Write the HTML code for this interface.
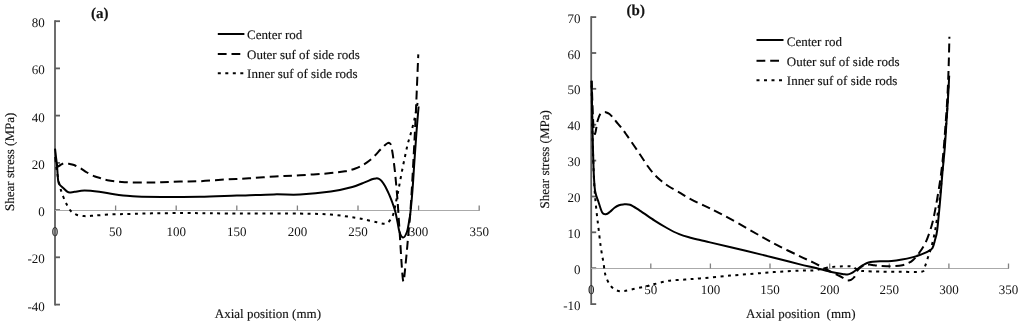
<!DOCTYPE html>
<html><head><meta charset="utf-8"><style>
html,body{margin:0;padding:0;background:#fff;width:1024px;height:325px;overflow:hidden}
svg{display:block;filter:grayscale(1)}
.ax{stroke:#5e5e5e;stroke-width:1.8;fill:none}
.xax{stroke:#aaa;stroke-width:1.2;fill:none}
.xt{stroke:#808080;stroke-width:1.3;fill:none}
.s{stroke:#000;stroke-width:2;fill:none;stroke-linejoin:round}
.d{stroke:#000;stroke-width:2;fill:none;stroke-dasharray:8.8 4.9}
.o{stroke:#000;stroke-width:2;fill:none;stroke-dasharray:3 4.5}
text{font-family:"Liberation Serif",serif;font-size:13px;fill:#111;text-rendering:geometricPrecision}
.t{opacity:0.99}
.t text{stroke:#111;stroke-width:0.15}
.t .n text{stroke:none}
text.b{font-weight:bold;font-size:15px}
</style></head><body>
<svg width="1024" height="325" viewBox="0 0 1024 325">
<line class="ax" x1="55.0" y1="20.3" x2="55.0" y2="305.5"/><line class="ax" x1="55.0" y1="21.2" x2="60.0" y2="21.2"/><line class="ax" x1="55.0" y1="68.4" x2="60.0" y2="68.4"/><line class="ax" x1="55.0" y1="115.6" x2="60.0" y2="115.6"/><line class="ax" x1="55.0" y1="162.9" x2="60.0" y2="162.9"/><line class="ax" x1="55.0" y1="210.1" x2="60.0" y2="210.1"/><line class="ax" x1="55.0" y1="257.3" x2="60.0" y2="257.3"/><line class="ax" x1="55.0" y1="304.6" x2="60.0" y2="304.6"/><line class="xax" x1="55.0" y1="210.5" x2="479.7" y2="210.5"/><line class="xt" x1="115.6" y1="210.5" x2="115.6" y2="205.5"/><line class="xt" x1="176.2" y1="210.5" x2="176.2" y2="205.5"/><line class="xt" x1="236.8" y1="210.5" x2="236.8" y2="205.5"/><line class="xt" x1="297.4" y1="210.5" x2="297.4" y2="205.5"/><line class="xt" x1="358.0" y1="210.5" x2="358.0" y2="205.5"/><line class="xt" x1="418.6" y1="210.5" x2="418.6" y2="205.5"/><line class="xt" x1="479.2" y1="210.5" x2="479.2" y2="205.5"/>
<line class="ax" x1="591.2" y1="16.2" x2="591.2" y2="305.0"/><line class="ax" x1="591.2" y1="17.1" x2="596.2" y2="17.1"/><line class="ax" x1="591.2" y1="53.0" x2="596.2" y2="53.0"/><line class="ax" x1="591.2" y1="88.8" x2="596.2" y2="88.8"/><line class="ax" x1="591.2" y1="124.7" x2="596.2" y2="124.7"/><line class="ax" x1="591.2" y1="160.6" x2="596.2" y2="160.6"/><line class="ax" x1="591.2" y1="196.5" x2="596.2" y2="196.5"/><line class="ax" x1="591.2" y1="232.3" x2="596.2" y2="232.3"/><line class="ax" x1="591.2" y1="268.2" x2="596.2" y2="268.2"/><line class="ax" x1="591.2" y1="304.1" x2="596.2" y2="304.1"/><line class="xax" x1="591.2" y1="268.5" x2="1009.0" y2="268.5"/><line class="xt" x1="650.8" y1="268.5" x2="650.8" y2="263.5"/><line class="xt" x1="710.4" y1="268.5" x2="710.4" y2="263.5"/><line class="xt" x1="770.0" y1="268.5" x2="770.0" y2="263.5"/><line class="xt" x1="829.7" y1="268.5" x2="829.7" y2="263.5"/><line class="xt" x1="889.3" y1="268.5" x2="889.3" y2="263.5"/><line class="xt" x1="948.9" y1="268.5" x2="948.9" y2="263.5"/><line class="xt" x1="1008.5" y1="268.5" x2="1008.5" y2="263.5"/>
<g class="t">
<g class="n">
<text x="44.8" y="27.2" text-anchor="end">80</text><text x="44.8" y="74.4" text-anchor="end">60</text><text x="44.8" y="121.6" text-anchor="end">40</text><text x="44.8" y="168.9" text-anchor="end">20</text><text x="44.8" y="216.1" text-anchor="end">0</text><text x="44.8" y="263.3" text-anchor="end">-20</text><text x="44.8" y="310.6" text-anchor="end">-40</text>
<text x="580.6" y="22.7" text-anchor="end">70</text><text x="580.6" y="58.6" text-anchor="end">60</text><text x="580.6" y="94.4" text-anchor="end">50</text><text x="580.6" y="130.3" text-anchor="end">40</text><text x="580.6" y="166.2" text-anchor="end">30</text><text x="580.6" y="202.1" text-anchor="end">20</text><text x="580.6" y="237.9" text-anchor="end">10</text><text x="580.6" y="273.8" text-anchor="end">0</text><text x="580.6" y="309.7" text-anchor="end">-10</text>
<text x="55.0" y="235.5" text-anchor="middle">0</text><text x="115.6" y="235.5" text-anchor="middle">50</text><text x="176.2" y="235.5" text-anchor="middle">100</text><text x="236.8" y="235.5" text-anchor="middle">150</text><text x="297.4" y="235.5" text-anchor="middle">200</text><text x="358.0" y="235.5" text-anchor="middle">250</text><text x="418.6" y="235.5" text-anchor="middle">300</text><text x="479.2" y="235.5" text-anchor="middle">350</text>
<text x="591.2" y="294.0" text-anchor="middle">0</text><text x="650.8" y="294.0" text-anchor="middle">50</text><text x="710.4" y="294.0" text-anchor="middle">100</text><text x="770.0" y="294.0" text-anchor="middle">150</text><text x="829.7" y="294.0" text-anchor="middle">200</text><text x="889.3" y="294.0" text-anchor="middle">250</text><text x="948.9" y="294.0" text-anchor="middle">300</text><text x="1008.5" y="294.0" text-anchor="middle">350</text>
</g>
<text x="267.9" y="318.0" text-anchor="middle">Axial position (mm)</text>
<text x="800.8" y="318.0" text-anchor="middle" xml:space="preserve">Axial position  (mm)</text>
<text transform="translate(13.5,161.8) rotate(-90)" text-anchor="middle">Shear stress (MPa)</text>
<text transform="translate(548.8,159.3) rotate(-90)" text-anchor="middle">Shear stress (MPa)</text>
<line class="s" x1="217.8" y1="34" x2="244.4" y2="34"/><line class="d" x1="217.8" y1="54" x2="244.4" y2="54"/><line class="o" x1="217.8" y1="73.3" x2="244.4" y2="73.3"/><text x="247.1" y="39.2">Center rod</text><text x="247.1" y="58.8">Outer suf of side rods</text><text x="247.1" y="78.2">Inner suf of side rods</text>
<line class="s" x1="756.5" y1="40" x2="783.5" y2="40"/><line class="d" x1="756.5" y1="60.8" x2="783.5" y2="60.8"/><line class="o" x1="756.5" y1="80.2" x2="783.5" y2="80.2"/><text x="786.8" y="45.8">Center rod</text><text x="786.8" y="66">Outer suf of side rods</text><text x="786.8" y="85.2">Inner suf of side rods</text>
<text x="91" y="18.4" class="b">(a)</text>
<text x="626.6" y="14.9" class="b">(b)</text>
</g>
<path class="s" d="M55.0,148.6 C55.2,150.0 55.7,154.3 56.0,157.0 C56.3,159.7 56.6,161.8 56.9,164.6 C57.2,167.4 57.4,171.2 57.6,174.0 C57.8,176.8 58.0,179.7 58.3,181.5 C58.6,183.3 58.7,183.5 59.6,184.6 C60.5,185.7 62.2,187.0 63.5,188.2 C64.8,189.4 66.2,190.9 67.2,191.6 C68.2,192.3 68.5,192.4 69.7,192.4 C70.9,192.4 72.1,192.1 74.6,191.8 C77.1,191.5 80.4,190.6 84.5,190.6 C88.6,190.6 94.3,191.2 99.2,191.8 C104.1,192.4 108.9,193.5 114.0,194.2 C119.1,194.9 125.3,195.7 130.0,196.1 C134.7,196.5 135.2,196.7 141.9,196.8 C148.6,196.9 160.3,196.9 170.0,196.9 C179.7,196.9 188.8,197.0 200.0,196.8 C211.2,196.6 224.6,196.0 236.9,195.6 C249.2,195.2 263.4,194.6 273.9,194.4 C284.4,194.2 290.5,195.0 300.0,194.5 C309.5,194.0 322.1,192.8 330.8,191.6 C339.5,190.3 346.7,188.5 352.3,187.0 C357.9,185.5 361.3,183.7 364.6,182.4 C367.9,181.1 370.1,180.0 372.0,179.3 C373.9,178.6 374.8,178.5 376.0,178.4 C377.2,178.3 378.1,178.4 379.0,178.8 C379.9,179.2 380.5,179.6 381.5,180.8 C382.5,182.0 383.7,183.7 385.0,186.0 C386.3,188.3 387.9,191.8 389.2,194.6 C390.4,197.4 391.5,200.1 392.5,203.0 C393.5,205.9 394.6,208.8 395.4,212.0 C396.2,215.2 396.8,218.7 397.5,222.0 C398.2,225.3 398.6,229.4 399.5,232.0 C400.4,234.6 402.0,237.6 403.2,237.6 C404.4,237.6 405.9,234.6 406.9,232.0 C407.9,229.4 408.4,225.3 409.0,222.0 C409.6,218.7 409.9,217.3 410.5,212.0 C411.1,206.7 411.8,198.7 412.5,190.0 C413.2,181.3 413.8,169.7 414.5,160.0 C415.2,150.3 415.8,140.9 416.5,132.0 C417.2,123.1 418.2,110.8 418.6,106.5"/>
<path class="d" d="M55.1,157.0 C55.3,158.0 56.0,161.4 56.5,163.0 C57.0,164.6 57.3,166.2 58.0,166.5 C58.7,166.8 59.5,165.5 60.5,165.0 C61.5,164.5 62.6,163.5 64.0,163.3 C65.4,163.1 67.3,163.5 69.0,163.8 C70.7,164.1 72.2,164.3 74.0,165.0 C75.8,165.7 77.8,166.8 80.0,168.0 C82.2,169.2 84.5,171.1 87.0,172.5 C89.5,173.9 92.8,175.6 95.0,176.5 C97.2,177.4 97.9,177.4 100.0,178.0 C102.1,178.6 103.3,179.5 107.4,180.2 C111.5,180.9 118.3,181.8 124.6,182.2 C130.9,182.6 138.8,182.5 145.0,182.5 C151.2,182.5 155.8,182.5 161.6,182.3 C167.4,182.1 173.6,181.7 180.0,181.5 C186.4,181.3 192.5,181.5 200.0,181.2 C207.5,180.9 216.8,180.0 225.0,179.5 C233.2,179.0 240.7,178.8 249.0,178.3 C257.3,177.8 266.5,177.0 275.0,176.5 C283.5,176.0 290.7,175.9 300.0,175.3 C309.3,174.7 323.3,173.8 330.8,173.1 C338.3,172.4 340.9,172.1 345.0,171.3 C349.1,170.5 352.4,169.6 355.4,168.5 C358.4,167.4 360.7,166.3 363.0,165.0 C365.3,163.7 367.2,162.4 369.2,160.8 C371.2,159.2 373.2,157.3 375.0,155.5 C376.8,153.7 378.5,151.6 380.0,150.0 C381.5,148.4 382.8,147.1 384.0,146.0 C385.2,144.9 386.1,144.0 387.0,143.5 C387.9,143.0 388.5,142.7 389.2,142.9 C389.9,143.2 390.5,143.6 391.0,145.0 C391.5,146.4 391.8,148.7 392.3,151.5 C392.8,154.3 393.3,157.9 393.8,162.0 C394.3,166.1 394.8,169.9 395.4,176.2 C396.0,182.5 396.8,191.0 397.5,200.0 C398.2,209.0 398.8,219.7 399.5,230.0 C400.2,240.3 400.9,253.4 401.5,262.0 C402.1,270.6 402.7,281.0 403.4,281.5 C404.1,282.0 404.7,272.2 405.5,265.0 C406.3,257.8 407.2,247.2 408.0,238.0 C408.8,228.8 409.7,221.7 410.5,210.0 C411.3,198.3 412.2,183.0 413.0,168.0 C413.8,153.0 414.6,138.9 415.5,120.0 C416.4,101.1 417.8,65.3 418.3,54.4" style="stroke-dashoffset:6.4"/>
<path class="o" d="M55.2,157.0 C55.5,159.5 56.2,167.2 57.0,172.0 C57.8,176.8 58.8,181.9 59.8,186.0 C60.8,190.1 62.0,193.3 63.2,196.5 C64.4,199.7 65.7,202.6 67.0,205.0 C68.3,207.4 69.4,209.6 71.0,211.2 C72.6,212.8 74.3,213.9 76.5,214.7 C78.7,215.5 81.8,215.9 84.2,216.1 C86.7,216.3 88.6,216.0 91.2,215.8 C93.8,215.7 95.8,215.4 99.6,215.2 C103.4,214.9 109.2,214.5 114.2,214.3 C119.2,214.1 122.9,214.1 129.6,213.9 C136.3,213.7 145.6,213.5 154.6,213.3 C163.6,213.2 174.3,213.0 183.5,213.0 C192.7,213.0 199.1,213.2 210.0,213.3 C220.9,213.4 233.7,213.6 248.7,213.6 C263.7,213.6 286.3,213.4 300.0,213.6 C313.7,213.8 321.6,213.9 330.8,214.6 C340.0,215.3 349.5,216.8 355.4,217.7 C361.3,218.6 362.4,219.0 366.0,219.8 C369.6,220.6 373.8,221.6 376.9,222.3 C380.0,223.0 382.8,223.8 384.6,223.8 C386.5,223.8 387.0,223.3 388.0,222.5 C389.0,221.7 389.9,220.5 390.8,219.2 C391.7,217.9 392.5,216.5 393.2,214.5 C393.9,212.5 394.5,209.4 395.0,207.0 C395.5,204.6 395.7,203.3 396.4,200.0 C397.1,196.7 398.1,191.8 399.0,187.0 C399.9,182.2 401.0,176.2 402.0,171.0 C403.0,165.8 404.1,160.7 405.1,156.0 C406.1,151.3 406.9,147.2 408.0,143.0 C409.1,138.8 410.4,135.0 411.5,131.0 C412.6,127.0 413.7,122.7 414.5,119.0 C415.3,115.3 416.0,111.7 416.5,109.0 C417.0,106.3 417.4,104.0 417.6,103.0" style="stroke-dashoffset:5.2"/>
<path class="s" d="M591.6,80.8 C591.7,86.5 592.0,103.5 592.2,115.0 C592.4,126.5 592.7,139.5 593.0,150.0 C593.3,160.5 593.6,171.0 594.0,178.0 C594.4,185.0 594.5,188.0 595.3,192.0 C596.0,196.0 597.4,198.6 598.5,202.0 C599.6,205.4 601.0,210.5 602.2,212.5 C603.4,214.5 604.6,214.3 605.9,214.2 C607.2,214.1 608.6,212.9 610.0,211.8 C611.4,210.7 613.0,208.9 614.5,207.8 C616.0,206.7 617.5,205.8 619.0,205.2 C620.5,204.6 621.4,204.5 623.2,204.4 C625.0,204.3 627.2,203.8 630.0,204.8 C632.8,205.8 635.7,208.0 639.8,210.6 C643.9,213.2 650.1,217.7 654.6,220.6 C659.1,223.5 662.8,225.7 666.9,228.0 C671.0,230.3 675.1,232.5 679.2,234.2 C683.3,235.9 688.0,237.0 691.5,238.0 C695.0,239.0 696.9,239.3 700.0,240.0 C703.1,240.7 704.9,241.2 710.0,242.4 C715.1,243.6 722.2,245.2 730.8,247.2 C739.4,249.2 753.3,252.6 761.5,254.6 C769.7,256.6 773.6,257.7 780.0,259.3 C786.4,260.9 793.9,262.9 800.0,264.4 C806.1,265.9 812.1,267.0 816.9,268.2 C821.7,269.4 824.6,270.4 828.8,271.4 C833.0,272.3 839.2,273.4 842.3,273.9 C845.4,274.4 845.9,274.7 847.4,274.6 C848.9,274.5 850.1,273.9 851.5,273.2 C852.9,272.5 854.4,271.3 855.8,270.3 C857.2,269.3 858.6,268.0 860.0,267.0 C861.4,266.0 862.9,265.1 864.3,264.4 C865.7,263.6 867.1,262.9 868.5,262.5 C869.9,262.1 870.9,261.9 872.8,261.7 C874.7,261.5 876.9,261.3 880.0,261.2 C883.1,261.1 887.9,261.2 891.6,260.9 C895.3,260.6 898.4,260.1 902.0,259.5 C905.6,258.9 909.9,257.9 913.1,257.1 C916.3,256.3 918.5,255.5 921.0,254.5 C923.5,253.5 926.3,252.4 928.2,251.3 C930.1,250.2 931.4,249.9 932.5,248.0 C933.6,246.1 934.2,243.0 935.0,240.0 C935.8,237.0 936.4,236.3 937.2,230.0 C938.0,223.7 939.1,211.7 940.0,202.0 C940.9,192.3 941.7,180.7 942.5,172.0 C943.3,163.3 943.9,158.3 944.6,150.0 C945.3,141.7 945.9,131.2 946.5,122.0 C947.1,112.8 947.8,102.7 948.2,95.0 C948.7,87.3 949.0,78.8 949.2,75.6"/>
<path class="d" d="M591.6,80.8 C591.7,84.0 592.1,93.8 592.3,100.0 C592.5,106.2 592.8,113.0 593.0,118.0 C593.2,123.0 593.5,127.3 593.8,130.0 C594.1,132.7 594.6,134.2 595.0,134.0 C595.4,133.8 595.9,130.4 596.2,128.5 C596.6,126.6 596.7,124.5 597.1,122.8 C597.5,121.0 598.0,119.4 598.5,118.0 C599.0,116.6 599.4,115.2 600.1,114.3 C600.8,113.4 601.6,112.8 602.5,112.5 C603.4,112.2 604.5,112.0 605.7,112.2 C606.9,112.5 608.3,113.1 609.5,114.0 C610.7,114.9 612.0,116.5 613.1,117.8 C614.2,119.0 614.6,119.7 616.1,121.5 C617.6,123.3 620.8,127.0 622.3,128.9 C623.8,130.8 624.1,131.3 625.4,133.2 C626.7,135.1 628.4,137.4 630.3,140.2 C632.2,143.0 634.9,147.0 636.9,149.9 C638.9,152.8 640.1,154.7 642.0,157.5 C643.9,160.3 646.1,163.8 648.0,166.5 C649.9,169.2 651.4,171.2 653.5,173.5 C655.6,175.8 658.2,178.3 660.8,180.5 C663.4,182.7 665.9,184.5 669.0,186.5 C672.1,188.5 675.9,190.4 679.2,192.3 C682.5,194.2 685.1,196.1 688.6,198.0 C692.1,199.9 696.4,202.1 700.0,203.8 C703.6,205.5 704.9,205.7 710.0,208.3 C715.1,210.9 722.2,214.5 730.8,219.2 C739.4,223.9 753.3,232.0 761.5,236.6 C769.7,241.2 773.6,243.3 780.0,246.6 C786.4,249.9 794.4,253.6 800.0,256.3 C805.6,259.0 809.0,260.4 813.5,262.6 C818.0,264.8 822.5,267.4 827.0,269.7 C831.5,272.0 837.8,275.0 840.6,276.5 C843.4,278.0 842.9,278.0 844.0,278.6 C845.1,279.2 846.2,280.1 847.4,280.3 C848.6,280.5 849.9,280.3 851.0,279.8 C852.1,279.3 853.0,278.9 854.1,277.3 C855.2,275.8 856.4,272.2 857.5,270.5 C858.6,268.8 859.8,267.9 861.0,267.0 C862.2,266.1 863.6,265.7 865.0,265.3 C866.4,264.9 867.8,264.6 869.4,264.6 C871.0,264.6 872.5,265.1 874.4,265.3 C876.3,265.5 877.9,265.7 880.8,265.9 C883.7,266.1 888.0,266.4 891.6,266.3 C895.2,266.2 899.6,265.8 902.3,265.3 C905.0,264.8 906.2,264.1 908.0,263.2 C909.8,262.3 911.2,261.7 913.1,259.9 C915.0,258.1 917.5,255.4 919.6,252.3 C921.8,249.2 924.0,245.9 926.0,241.6 C928.0,237.3 930.1,230.8 931.4,226.5 C932.7,222.2 933.1,220.4 934.0,216.0 C934.9,211.6 935.9,206.3 937.0,200.0 C938.1,193.7 939.4,185.9 940.5,178.0 C941.6,170.1 942.6,161.3 943.4,152.5 C944.2,143.7 944.8,134.6 945.5,125.0 C946.2,115.4 947.0,105.0 947.5,95.0 C948.0,85.0 948.4,74.7 948.7,65.0 C949.0,55.3 949.3,41.4 949.4,36.7" style="stroke-dashoffset:2.8"/>
<path class="o" d="M591.6,84.0 C591.7,91.7 592.1,115.7 592.4,130.0 C592.7,144.3 593.2,159.5 593.6,170.0 C594.0,180.5 594.3,186.0 594.8,193.0 C595.3,200.0 596.0,206.0 596.6,212.0 C597.2,218.0 597.9,223.1 598.6,229.0 C599.3,234.9 600.0,241.6 600.8,247.2 C601.6,252.8 602.6,257.6 603.4,262.3 C604.2,267.0 604.3,271.4 605.5,275.3 C606.7,279.2 608.6,283.1 610.5,285.6 C612.4,288.1 614.7,289.6 617.0,290.5 C619.3,291.4 621.5,291.3 624.5,291.0 C627.5,290.7 631.7,289.4 635.3,288.6 C638.9,287.8 642.8,287.1 646.0,286.3 C649.2,285.5 650.9,284.9 654.7,284.0 C658.5,283.1 663.7,281.6 668.7,280.8 C673.8,280.1 679.8,279.9 685.0,279.5 C690.2,279.1 692.5,279.0 700.0,278.4 C707.5,277.8 720.0,276.5 730.0,275.6 C740.0,274.7 751.7,273.9 760.0,273.2 C768.3,272.5 773.3,272.1 780.0,271.7 C786.7,271.3 794.4,270.8 800.0,270.6 C805.6,270.4 809.8,270.8 813.5,270.5 C817.2,270.2 819.2,269.4 822.0,268.8 C824.8,268.2 827.5,267.5 830.5,267.1 C833.5,266.7 836.6,266.5 840.0,266.4 C843.4,266.3 848.3,266.0 850.8,266.3 C853.3,266.6 853.6,267.5 855.0,268.2 C856.4,268.9 857.4,270.0 859.2,270.5 C861.0,271.0 862.5,271.0 866.0,271.2 C869.5,271.4 874.3,271.5 880.0,271.6 C885.7,271.7 893.0,271.7 900.0,271.7 C907.0,271.7 917.5,272.6 921.7,271.7 C925.9,270.8 923.9,268.8 925.0,266.3 C926.1,263.8 927.1,259.8 928.2,256.6 C929.3,253.4 930.3,250.9 931.4,246.9 C932.5,242.9 933.8,237.4 934.7,232.9 C935.6,228.4 936.0,225.5 936.8,220.0 C937.6,214.5 938.6,207.5 939.5,200.0 C940.4,192.5 941.2,184.2 942.0,175.0 C942.8,165.8 943.7,155.0 944.5,145.0 C945.3,135.0 946.1,125.0 946.8,115.0 C947.5,105.0 948.2,90.0 948.5,85.0" style="stroke-dashoffset:5.8"/>
</svg>
</body></html>
